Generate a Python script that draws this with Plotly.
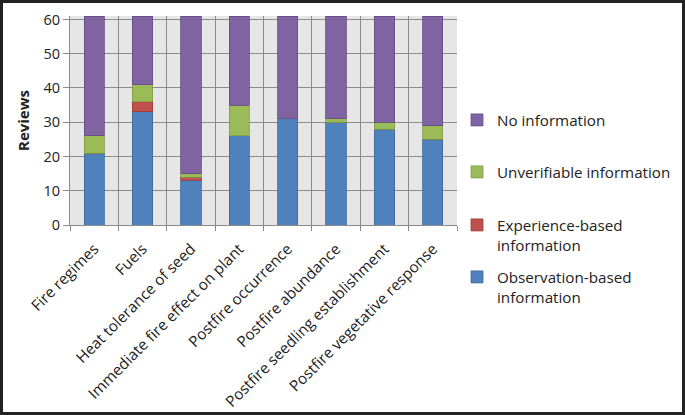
import plotly.graph_objects as go

categories = ["Fire regimes", "Fuels", "Heat tolerance of seed",
              "Immediate fire effect on plant", "Postfire occurrence",
              "Postfire abundance", "Postfire seedling establishment",
              "Postfire vegetative response"]
observation = [21, 33, 13, 26, 31, 30, 28, 25]
experience = [0, 3, 1, 0, 0, 0, 0, 0]
unverifiable = [5, 5, 1, 9, 0, 1, 2, 4]
no_info = [35, 20, 46, 26, 30, 30, 31, 32]
y_ticks = [0, 10, 20, 30, 40, 50, 60]

series = [
    ("Observation-based<br>information", observation, "#4F81BD", "#3C6A9E", "legend4"),
    ("Experience-based<br>information", experience, "#C0504D", "#9E3B38", "legend3"),
    ("Unverifiable information", unverifiable, "#9BBB59", "#7E9C43", "legend2"),
    ("No information", no_info, "#8064A2", "#654C85", "legend"),
]

FONT = "Open Sans"
W, H = 685, 415
ML, MR, MT, MB = 70, 228, 16, 190
PW, PH = W - ML - MR, H - MT - MB

fig = go.Figure()
for name, vals, col, edge, lg in series:
    fig.add_trace(go.Bar(x=categories, y=vals, name=name, legend=lg,
                         marker=dict(color=col, line=dict(color=edge, width=0.8))))

def py(pix):
    return (H - MB - pix) / PH

legend_common = dict(x=1.0, xanchor="left", yanchor="middle", valign="top",
                     font=dict(family=FONT, size=15.2, color="#222222"),
                     bgcolor="rgba(0,0,0,0)", itemclick=False)

fig.update_layout(
    width=W, height=H,
    margin=dict(l=ML, r=MR, t=MT, b=MB, autoexpand=False),
    barmode="stack", bargap=0.58,
    paper_bgcolor="white", plot_bgcolor="#E6E6E6",
    font=dict(family=FONT, size=13, color="#222222"),
    xaxis=dict(tickson="boundaries", showgrid=True, gridcolor="#8C8C8C", gridwidth=1,
               ticks="outside", ticklen=5, tickcolor="#8C8C8C", automargin=False,
               showline=True, linecolor="#8C8C8C", tickangle=-45,
               ticklabelstandoff=8,
               tickfont=dict(family=FONT, size=15.3, color="#222222")),
    yaxis=dict(range=[0, 61], tickvals=y_ticks, showgrid=True, gridcolor="#8C8C8C",
               ticks="outside", ticklen=6, tickcolor="#8C8C8C", automargin=False,
               showline=True, linecolor="#8C8C8C", zeroline=False,
               tickfont=dict(family=FONT, size=14.5, color="#222222"),
               title=dict(text="<b>Reviews</b>", font=dict(family=FONT, size=15, color="#222222"),
                          standoff=10)),
    legend=dict(y=py(120), **legend_common),
    legend2=dict(y=py(172), **legend_common),
    legend3=dict(y=py(235), **legend_common),
    legend4=dict(y=py(287), **legend_common),
    showlegend=True,
)

# dark frame around the whole picture
fig.add_shape(type="rect", xref="paper", yref="paper",
              x0=(-ML + 1.5) / PW, x1=(W - ML - 1.5) / PW,
              y0=(-MB + 1.5) / PH, y1=(H - MB - 1.5) / PH,
              line=dict(color="#222222", width=3), fillcolor="rgba(0,0,0,0)", layer="above")

fig.write_html("out.html", config={"displayModeBar": False, "staticPlot": True},
               post_script="document.body.style.margin='0';document.body.style.overflow='hidden';")
